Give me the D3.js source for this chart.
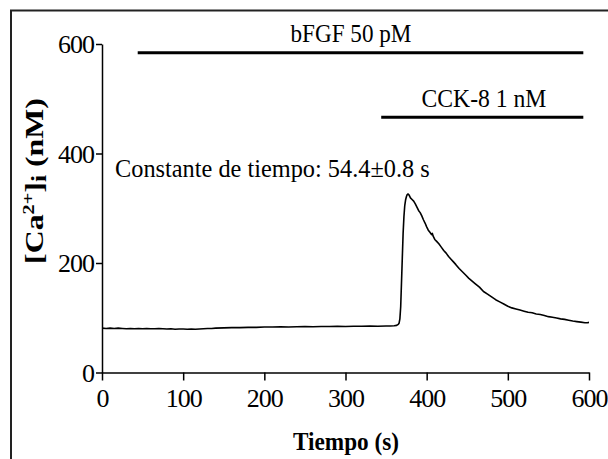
<!DOCTYPE html>
<html>
<head>
<meta charset="utf-8">
<script src="https://cdn.jsdelivr.net/npm/d3@7"></script>
<style>
  body { margin: 0; background: #fff; }
  svg { display: block; }
  text { font-family: "Liberation Serif", "Times New Roman", serif; fill: #000; }
</style>
</head>
<body>
<svg id="chart"></svg>
<script>
// time (s) and [Ca2+]i (nM)
const time = [0, 5, 10, 15, 20, 25, 30, 35, 40, 45, 50, 55, 60, 65, 70, 75, 80, 85, 90, 95,
  100, 105, 110, 115, 120, 125, 130, 135, 140, 150, 160, 170, 180, 190, 200, 210, 220, 230, 240, 250,
  260, 270, 280, 290, 300, 310, 320, 330, 340, 350, 355, 360, 363, 365, 366, 367, 368, 369, 370, 371,
  372, 373, 374, 375, 376, 377, 378, 379, 380, 382, 384, 386, 388, 390, 392, 394, 396, 398, 400, 402,
  404, 406, 407, 408, 410, 412, 415, 418, 421, 424, 427, 430, 433, 436, 440, 444, 448, 452, 456, 460,
  465, 470, 475, 480, 485, 490, 495, 500, 505, 510, 515, 520, 525, 530, 535, 540, 545, 550, 555, 560,
  565, 570, 575, 580, 585, 590, 595, 598, 600];
const calcium = [81, 80.5, 81, 80.5, 81, 80.5, 80, 80.5, 80, 80.5, 80, 80.5, 80, 80, 80.5, 80, 79.5, 80, 79, 79.5,
  79.5, 79, 79.5, 79, 79.5, 80, 80.5, 80.5, 81, 81.5, 82, 82, 82.5, 82.5, 83, 83, 83.5, 83, 83.5, 84,
  83.5, 84, 84, 84.5, 84, 84.5, 84.5, 85, 84.5, 85, 85, 85.5, 86, 88, 90, 98, 120, 165, 210, 255,
  285, 305, 315, 321, 325, 326, 325, 322, 319, 316, 313, 308, 302, 296, 292, 286, 279, 273, 266, 260,
  256, 252, 254, 249, 243, 240, 235, 229, 223, 218, 212, 207, 202, 197, 190, 184, 178, 172, 167, 162,
  156, 148, 143, 138, 133, 129, 125, 121, 118, 116, 114, 112, 110, 109, 107, 106, 104, 102, 101, 99.5,
  98, 97, 95.5, 94, 93, 92, 91, 91, 91.5];

const xTicks = [0, 100, 200, 300, 400, 500, 600];
const yTicks = [0, 200, 400, 600];

// treatment periods (s) and the level (nM units) at which their bars are drawn
const treatLabels = ["bFGF 50 pM", "CCK-8 1 nM"];
const treatStart = [44, 344];
const treatEnd = [593, 593];
const treatLevel = [584, 466];

const tauText = "Constante de tiempo: 54.4\u00B10.8 s";

const W = 608, H = 459;
const svg = d3.select("#chart").attr("width", W).attr("height", H);

svg.append("rect").attr("width", W).attr("height", H).attr("fill", "#fff");

// outer frame (only left and top edges fall inside the picture)
svg.append("rect")
  .attr("x", 11).attr("y", 10.5)
  .attr("width", 700).attr("height", 500)
  .attr("fill", "none").attr("stroke", "#222").attr("stroke-width", 2);

const x = d3.scaleLinear().domain([0, 600]).range([102, 589]);
const y = d3.scaleLinear().domain([0, 600]).range([372.5, 44]);

// stretch a text to a measured width
function fit(sel, w) {
  const bw = sel.node().getBBox().width;
  return bw ? w / bw : 1;
}

// axes
const xAxis = svg.append("g")
  .attr("transform", "translate(0," + y(0) + ")")
  .call(d3.axisBottom(x).tickValues(xTicks).tickSize(8).tickSizeOuter(0).tickPadding(8));
const yAxis = svg.append("g")
  .attr("transform", "translate(" + x(0) + ",0)")
  .call(d3.axisLeft(y).tickValues(yTicks).tickSize(6).tickSizeOuter(0).tickPadding(2));

[xAxis, yAxis].forEach(function(g) {
  g.attr("font-family", null).attr("font-size", null);
  g.select(".domain").attr("stroke", "#000").attr("stroke-width", 1.5);
  g.selectAll(".tick line").attr("stroke", "#000").attr("stroke-width", 1.5);
  g.selectAll(".tick text")
    .style("font-size", "26px")
    .style("letter-spacing", "-1px")
    .attr("fill", "#000");
});
yAxis.selectAll(".tick text").attr("dy", "0.34em");

// trace
const line = d3.line()
  .x(function(d, i) { return x(time[i]); })
  .y(function(d) { return y(d); });

svg.append("path")
  .datum(calcium)
  .attr("d", line)
  .attr("fill", "none")
  .attr("stroke", "#000")
  .attr("stroke-width", 1.6)
  .attr("stroke-linejoin", "round");

// treatment bars
svg.selectAll(".bar")
  .data(treatLabels)
  .enter()
  .append("line")
    .attr("class", "bar")
    .attr("x1", function(d, i) { return x(treatStart[i]); })
    .attr("x2", function(d, i) { return x(treatEnd[i]); })
    .attr("y1", function(d, i) { return y(treatLevel[i]); })
    .attr("y2", function(d, i) { return y(treatLevel[i]); })
    .attr("stroke", "#000")
    .attr("stroke-width", 3);

// annotation texts: [left x, baseline y, width]
const annot = [
  { text: treatLabels[0], pos: [290.5, 41.5, 121] },
  { text: treatLabels[1], pos: [421.5, 106.5, 125] },
  { text: tauText, pos: [115, 176.5, 315] }
];
annot.forEach(function(a) {
  const t = svg.append("text")
    .style("font-size", "25px")
    .text(a.text);
  const s = fit(t, a.pos[2]);
  t.attr("transform", "translate(" + a.pos[0] + "," + a.pos[1] + ") scale(" + s + ",1)");
});

// x title
const xt = svg.append("text")
  .style("font-size", "25px")
  .style("font-weight", "bold")
  .text("Tiempo (s)");
const sx = fit(xt, 106);
xt.attr("transform", "translate(293,450) scale(" + sx + ",1)");

// y title
const yt = svg.append("text")
  .style("font-size", "25px")
  .style("font-weight", "bold")
  .attr("text-anchor", "middle");
yt.append("tspan").text("[Ca");
yt.append("tspan").text("2+").style("font-size", "16px").attr("dy", "-9");
yt.append("tspan").text("]").attr("dy", "9");
yt.append("tspan").text("i").style("font-size", "20px").attr("dy", "3");
yt.append("tspan").text(" (nM)").attr("dy", "-3");
const sy = fit(yt, 166);
yt.attr("transform", "translate(43,181) rotate(-90) scale(" + sy + ",1)");
</script>
</body>
</html>
